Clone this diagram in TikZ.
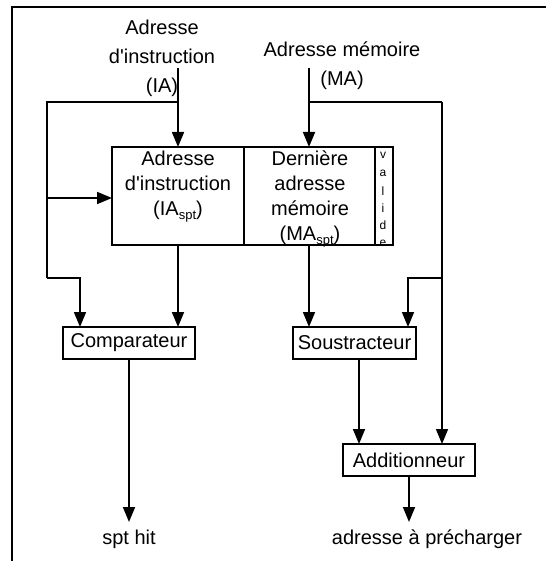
\documentclass[tikz,border=0pt]{standalone}
\usepackage{fontspec}
\setmainfont{Liberation Sans}
\usetikzlibrary{arrows.meta}
\newcommand{\spt}{{\fontsize{13}{13}\selectfont\raisebox{-4pt}{spt}}}
\begin{document}
\begin{tikzpicture}[x=1pt,y=-1pt,
  wire/.style={line width=1.7pt},
  flow/.style={wire,-{Triangle[length=15pt,width=12pt]}},
  cell/.style={draw,line width=1.7pt,inner sep=0pt,outer sep=0pt},
  unit/.style={draw,line width=1.7pt,inner sep=0pt,outer sep=0pt,minimum height=32pt,
    font=\fontsize{20}{24}\selectfont},
  txt/.style={align=center,inner sep=0pt,font=\fontsize{20}{25}\selectfont},
  title/.style={align=center,inner sep=0pt,font=\fontsize{20}{29}\selectfont},
  tiny/.style={inner sep=0pt,font=\fontsize{12}{12}\selectfont}]
\useasboundingbox (0,0) rectangle (546,561);
% page frame (top and left edges)
\draw[line width=2pt] (11.5,561) -- (11.5,7) -- (546,7);

% inputs
\node[title] (iatitle) at (162,58) {Adresse\\d\textquotesingle instruction\\(IA)};
\node[title] (matitle) at (342,66) {Adresse mémoire\\(MA)};
\coordinate (iain) at (178,68);
\coordinate (main) at (309,68);

% stored pair: instruction address, last memory address, valid bit
\node[cell,minimum width=132pt,minimum height=98pt] (iacell) at (178,196) {};
\node[cell,minimum width=131pt,minimum height=98pt] (macell) at (309.5,196) {};
\node[cell,minimum width=18pt,minimum height=98pt] (valcell) at (384,196) {};
\node[txt] (iatext) at (178,187) {Adresse\\d\textquotesingle instruction\\(IA\spt)};
\node[txt] (matext) at (310,199) {Dernière\\adresse\\mémoire\\(MA\spt)};
\foreach \c/\y in {v/155,a/173,l/191,i/208,d/225,e/243}
  \node[tiny] (val\c) at (383,\y) {\c};

% arithmetic units
\node[unit,minimum width=132pt] (cmp) at (129,343) {Comparateur};
\node[unit,minimum width=123pt] (sub) at (354.5,343) {Soustracteur};
\node[unit,minimum width=132pt] (add) at (409,460) {Additionneur};

% outputs
\node[txt] (hit) at (129,539) {spt hit};
\node[txt] (pref) at (427,539) {adresse à précharger};

% junction points
\coordinate (iaj) at (178,102);
\coordinate (iaL) at (47,102);
\coordinate (iaS) at (47,198);
\coordinate (iaD) at (47,278);
\coordinate (maj) at (309,102);
\coordinate (maR) at (442,102);
\coordinate (maS) at (442,278);
\coordinate (hitin) at (129,522);
\coordinate (prefin) at (409,522);

% instruction address path
\draw[flow] (iain) -- (iacell.north);
\draw[wire] (iaj) -- (iaL) -- (iaD);
\draw[flow] (iaS) -- (iacell.west |- iaS);
\draw[flow] (iaD) -| ([xshift=-49pt]cmp.north);
\draw[flow] (iacell.south) -- (cmp.north -| iacell.south);

% memory address path
\draw[flow] (main) -- (macell.north -| main);
\draw[wire] (maj) -- (maR);
\draw[flow] (maR) -- (add.north -| maR);
\draw[flow] (maS) -| ([xshift=53.5pt]sub.north);
\draw[flow] (macell.south -| main) -- (sub.north -| main);

% results
\draw[flow] (cmp.south) -- (hitin);
\draw[flow] (sub.south -| 359,0) -- (add.north -| 359,0);
\draw[flow] (add.south) -- (prefin);
\end{tikzpicture}
\end{document}
